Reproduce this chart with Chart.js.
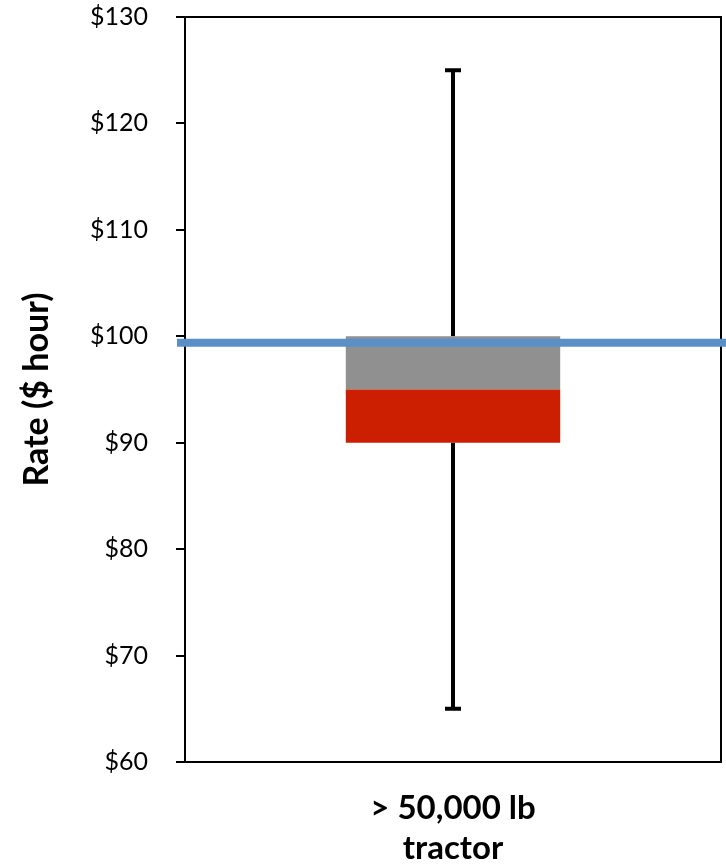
<!DOCTYPE html>
<html>
<head>
<meta charset="utf-8">
<script src="https://cdn.jsdelivr.net/npm/chart.js@4/dist/chart.umd.min.js"></script>
<style>
  html, body { margin: 0; padding: 0; background: #fff; }
  #wrap { width: 726px; height: 868px; }
</style>
</head>
<body>
<div id="wrap"><canvas id="rateChart"></canvas></div>
<script>
// ── data ──
const categories = [['> 50,000 lb', 'tractor']];
const lowerBox = [[90, 95]];      // red part
const upperBox = [[95, 100]];     // gray part
const whiskerLow = [65];
const whiskerHigh = [125];
const avgRate = 99.4;             // blue reference line
const yTicks = [60, 70, 80, 90, 100, 110, 120, 130];

// whiskers (only outside the box), frame and reference line
const whiskerPlugin = {
  id: 'whiskers',
  beforeDatasetsDraw(chart) {
    const { ctx, scales: { x, y } } = chart;
    ctx.save();
    ctx.strokeStyle = '#000';
    ctx.lineWidth = 4;
    whiskerLow.forEach((lo, i) => {
      const px = x.getPixelForValue(i);
      const yLo = y.getPixelForValue(lo);
      const yHi = y.getPixelForValue(whiskerHigh[i]);
      const boxLo = y.getPixelForValue(lowerBox[i][0]);
      const boxHi = y.getPixelForValue(upperBox[i][1]);
      ctx.beginPath();
      ctx.moveTo(px, yLo); ctx.lineTo(px, boxLo);
      ctx.moveTo(px, boxHi); ctx.lineTo(px, yHi);
      ctx.moveTo(px - 8, yLo); ctx.lineTo(px + 8, yLo);
      ctx.moveTo(px - 8, yHi); ctx.lineTo(px + 8, yHi);
      ctx.stroke();
    });
    ctx.restore();
  },
  afterDraw(chart) {
    const { ctx, chartArea: a, scales: { y } } = chart;
    ctx.save();
    ctx.strokeStyle = '#000';
    ctx.lineWidth = 2;
    ctx.strokeRect(a.left, a.top, a.right - a.left, a.bottom - a.top);
    const py = y.getPixelForValue(avgRate);
    ctx.strokeStyle = '#5b8fc8';
    ctx.lineWidth = 8;
    ctx.beginPath();
    ctx.moveTo(a.left - 8, py);
    ctx.lineTo(chart.width, py);
    ctx.stroke();
    ctx.restore();
  }
};

const ctx = document.getElementById('rateChart').getContext('2d');
new Chart(ctx, {
  type: 'bar',
  data: {
    labels: categories,
    datasets: [
      { data: lowerBox, backgroundColor: '#cc1e00', grouped: false, barPercentage: 0.4, categoryPercentage: 1 },
      { data: upperBox, backgroundColor: '#909090', grouped: false, barPercentage: 0.4, categoryPercentage: 1 }
    ]
  },
  options: {
    responsive: true,
    maintainAspectRatio: false,
    animation: false,
    layout: { padding: { top: 17, right: 5, left: 0, bottom: 0 } },
    plugins: { legend: { display: false }, tooltip: { enabled: false } },
    scales: {
      x: {
        grid: { display: false },
        border: { display: false },
        ticks: {
          color: '#000',
          padding: 19,
          font: { family: 'Lato', size: 33, weight: 'bold', lineHeight: 1.2 }
        },
        afterFit(s) { s.height = 106; s.paddingLeft = 0; s.paddingRight = 0; }
      },
      y: {
        min: yTicks[0],
        max: yTicks[yTicks.length - 1],
        afterBuildTicks(s) { s.ticks = yTicks.map(v => ({ value: v })); },
        grid: { drawOnChartArea: false, color: '#000', lineWidth: 2, tickLength: 9 },
        border: { display: true, color: '#000', width: 2 },
        ticks: {
          color: '#000',
          padding: 28,
          font: { family: 'Lato', size: 25 },
          callback: v => '$' + v
        },
        title: {
          display: true,
          text: 'Rate ($ hour)',
          color: '#000',
          padding: { top: 17, bottom: 0 },
          font: { family: 'Lato', size: 34, weight: 'bold', lineHeight: 1.2 }
        },
        afterFit(s) { s.width = 185; s.paddingTop = 0; s.paddingBottom = 0; }
      }
    }
  },
  plugins: [whiskerPlugin]
});
</script>
</body>
</html>
